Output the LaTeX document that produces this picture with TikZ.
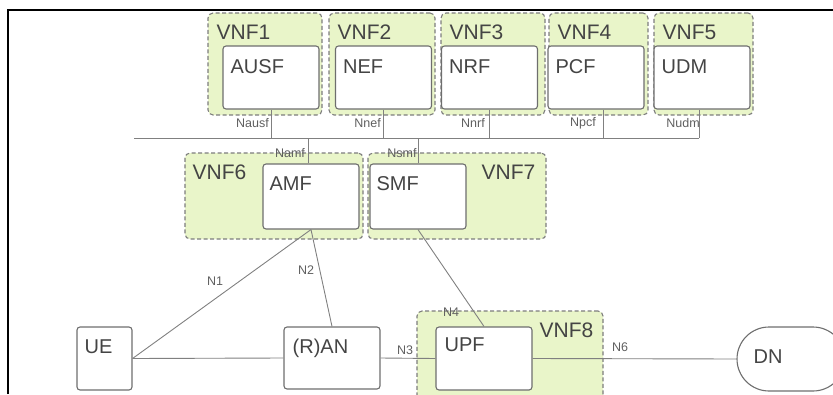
\documentclass[tikz,border=0pt]{standalone}
\usepackage{fontspec}
\setmainfont{Liberation Sans}
\usetikzlibrary{calc}
\definecolor{vnfgreen}{RGB}{233,245,201}
\definecolor{dashgray}{RGB}{125,125,125}
\definecolor{boxgray}{RGB}{110,110,110}
\definecolor{linegray}{RGB}{128,128,128}
\definecolor{txtgray}{RGB}{68,68,68}
\definecolor{lblgray}{RGB}{95,95,95}

\begin{document}
\begin{tikzpicture}[x=1pt,y=-1pt,
  vnf/.style={draw=dashgray, fill=vnfgreen, dash pattern=on 4pt off 2.5pt,
    line width=1.1pt, rounded corners=5pt, inner sep=0pt},
  nf/.style={draw=boxgray, fill=white, line width=1.1pt, rounded corners=3pt,
    inner sep=0pt, minimum width=96pt, minimum height=63pt},
  vnftxt/.style={inner sep=0pt, font=\fontsize{21}{21}\selectfont,
    text=txtgray, text height=15pt, text depth=0pt},
  nftxt/.style={anchor=north west, inner sep=0pt, font=\fontsize{20}{20}\selectfont,
    text=txtgray, text height=14pt, text depth=0pt},
  iflbl/.style={inner sep=0pt, font=\fontsize{12.5}{12.5}\selectfont, text=lblgray},
  link/.style={draw=linegray, line width=0.9pt},
]
\useasboundingbox (0,0) rectangle (833,394);
\clip (0,0) rectangle (833,394);

% frame
\draw[line width=2pt, black] (8,394) -- (8,10) -- (833,10);

% VNF containers
\node[vnf, minimum width=114pt, minimum height=102pt] (vnf1) at (265,64) {};
\node[vnf, minimum width=106pt, minimum height=102pt] (vnf2) at (382,64) {};
\node[vnf, minimum width=104pt, minimum height=102pt] (vnf3) at (493,64) {};
\node[vnf, minimum width=99pt, minimum height=102pt] (vnf4) at (598.5,64) {};
\node[vnf, minimum width=99pt, minimum height=102pt] (vnf5) at (703.5,64) {};
\node[vnf, minimum width=178pt, minimum height=86pt] (vnf6) at (274,196) {};
\node[vnf, minimum width=178pt, minimum height=86pt] (vnf7) at (457,196) {};
\node[vnf, minimum width=186pt, minimum height=99pt] (vnf8) at (510,360.5) {};

\node[vnftxt, anchor=north west] (vnf1-t) at ([shift={(9,12)}]vnf1.north west) {VNF1};
\node[vnftxt, anchor=north west] (vnf2-t) at ([shift={(9,12)}]vnf2.north west) {VNF2};
\node[vnftxt, anchor=north west] (vnf3-t) at ([shift={(9,12)}]vnf3.north west) {VNF3};
\node[vnftxt, anchor=north west] (vnf4-t) at ([shift={(9,12)}]vnf4.north west) {VNF4};
\node[vnftxt, anchor=north west] (vnf5-t) at ([shift={(9,12)}]vnf5.north west) {VNF5};
\node[vnftxt, anchor=north west] (vnf6-t) at ([shift={(8,12)}]vnf6.north west) {VNF6};
\node[vnftxt, anchor=north east] (vnf7-t) at ([shift={(-11,12)}]vnf7.north east) {VNF7};
\node[vnftxt, anchor=north east] (vnf8-t) at ([shift={(-10,12)}]vnf8.north east) {VNF8};

% network functions
\node[nf] (ausf) at (271,77.5) {};
\node[nf] (nef) at (383.5,77.5) {};
\node[nf] (nrf) at (489.5,77.5) {};
\node[nf] (pcf) at (596,77.5) {};
\node[nf] (udm) at (702,77.5) {};
\node[nf, minimum height=65pt] (amf) at (311,196.5) {};
\node[nf, minimum height=65pt] (smf) at (418,196.5) {};
\node[nf, minimum width=55pt] (ue) at (104.5,358.5) {};
\node[nf, minimum height=62pt] (ran) at (332,358) {};
\node[nf] (upf) at (484,358.5) {};
\node[draw=boxgray, fill=white, line width=1.1pt, rounded corners=32pt,
  inner sep=0pt, minimum width=108pt, minimum height=64pt] (dn) at (791,359) {};

\node[nftxt] (ausf-t) at ([shift={(8,14)}]ausf.north west) {AUSF};
\node[nftxt] (nef-t) at ([shift={(8,14)}]nef.north west) {NEF};
\node[nftxt] (nrf-t) at ([shift={(8,14)}]nrf.north west) {NRF};
\node[nftxt] (pcf-t) at ([shift={(8,14)}]pcf.north west) {PCF};
\node[nftxt] (udm-t) at ([shift={(8,14)}]udm.north west) {UDM};
\node[nftxt] (amf-t) at ([shift={(7,13)}]amf.north west) {AMF};
\node[nftxt] (smf-t) at ([shift={(7,13)}]smf.north west) {SMF};
\node[nftxt] (ue-t) at ([shift={(8,13)}]ue.north west) {UE};
\node[nftxt] (ran-t) at ([shift={(9,13)}]ran.north west) {(R)AN};
\node[nftxt] (upf-t) at ([shift={(9,11)}]upf.north west) {UPF};
\node[nftxt, anchor=base west] (dn-t) at ([shift={(17,4)}]dn.west) {DN};

% service bus
\coordinate (bus-w) at (134,138);
\coordinate (bus-e) at (699,138);
\coordinate (pcf-if) at (603,138);
\coordinate (amf-if) at (308,138);
\draw[link] (bus-w) -- (bus-e);
\draw[link] (ausf.south) -- (ausf.south |- bus-w);
\draw[link] (nef.south) -- (nef.south |- bus-w);
\draw[link] (nrf.south) -- (nrf.south |- bus-w);
\draw[link] (pcf-if |- pcf.south) -- (pcf-if);
\draw[link] (bus-e |- udm.south) -- (bus-e);
\draw[link] (amf-if) -- (amf-if |- amf.north);
\draw[link] (smf.north |- bus-w) -- (smf.north);

\node[iflbl, anchor=east] (l-ausf) at (269,123) {Nausf};
\node[iflbl, anchor=east] (l-nef) at (381,123) {Nnef};
\node[iflbl, anchor=east] (l-nrf) at (485,123) {Nnrf};
\node[iflbl, anchor=east] (l-pcf) at (596,123) {Npcf};
\node[iflbl, anchor=east] (l-udm) at (700,123) {Nudm};
\node[iflbl] (l-amf) at (290,153) {Namf};
\node[iflbl] (l-smf) at (402,153) {Nsmf};

% reference points
\draw[link] (ue.east) -- (amf.south);
\draw[link] (amf.south) -- (ran.north);
\draw[link] (ue.east) -- (ran.west);
\draw[link] (ran.east) -- (upf.west);
\draw[link] (smf.south) -- (upf.north);
\draw[link] (upf.east) -- (dn.west);

\node[iflbl] (l-n1) at (215,281) {N1};
\node[iflbl] (l-n2) at (306,270) {N2};
\node[iflbl] (l-n3) at (405,350) {N3};
\node[iflbl] (l-n4) at (451,312) {N4};
\node[iflbl] (l-n6) at (620,347) {N6};
\end{tikzpicture}
\end{document}
